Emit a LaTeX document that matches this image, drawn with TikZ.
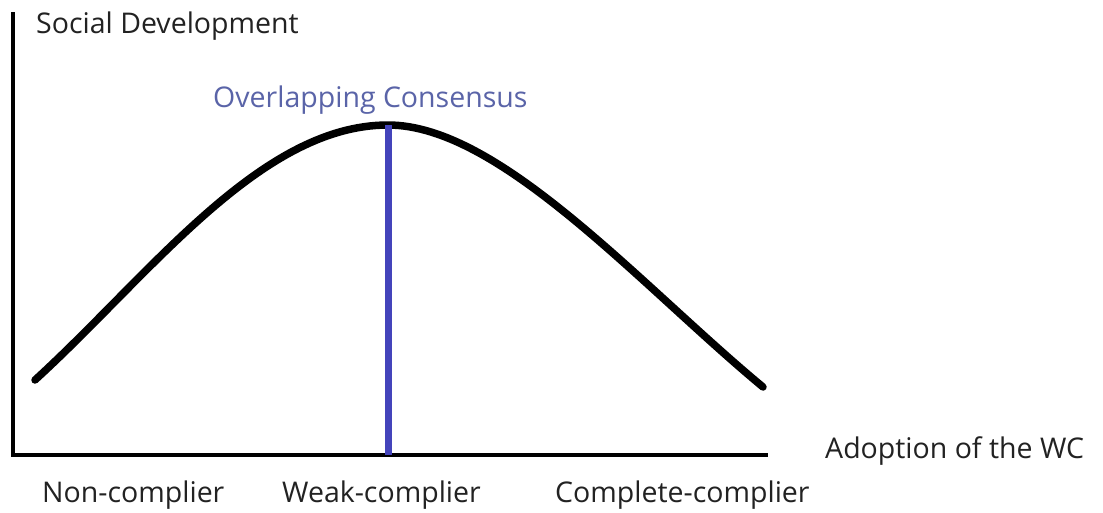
\documentclass[tikz,border=0pt]{standalone}
\usepackage{fontspec}
\setmainfont{Open Sans}
\definecolor{txt}{HTML}{222222}
\definecolor{ocblue}{HTML}{5A64A8}
\definecolor{vblue}{HTML}{4444BB}
\begin{document}
\begin{tikzpicture}[x=1pt,y=-1pt,
  axis/.style={line width=4.5pt,black},
  curve/.style={line width=7.5pt,black,line cap=round},
  lbl/.style={inner sep=0pt,text=txt,font=\fontsize{28.5}{32}\selectfont},
  oclbl/.style={inner sep=0pt,text=ocblue,font=\fontsize{28.5}{32}\selectfont}]
\useasboundingbox[fill=white] (0,0) rectangle (1103,512);
\coordinate (ytop) at (13,12);
\coordinate (orig) at (13,455);
\coordinate (xend) at (768,455);
\coordinate (peak) at (388,125);
\coordinate (vbase) at (388,455);
\coordinate (cstart) at (35,380);
\coordinate (cend) at (763,387);
\draw[axis] (ytop) -- (orig) -- (xend);
\draw[curve] (cstart) .. controls (150,275) and (260,125) .. (peak)
  .. controls (500,125) and (640,285) .. (cend);
\draw[line width=7pt,vblue] (peak) -- (vbase);
\node[lbl,anchor=west] (ylab) at (36,26) {Social Development};
\node[oclbl,anchor=west] (oc) at (213,100) {Overlapping Consensus};
\node[lbl,anchor=west] (xlab) at (825,451) {Adoption of the WC};
\node[lbl,anchor=west] (nc) at (42,495) {Non-complier};
\node[lbl,anchor=west] (wc) at (282,495) {Weak-complier};
\node[lbl,anchor=west] (cc) at (555,495) {Complete-complier};
\end{tikzpicture}
\end{document}
